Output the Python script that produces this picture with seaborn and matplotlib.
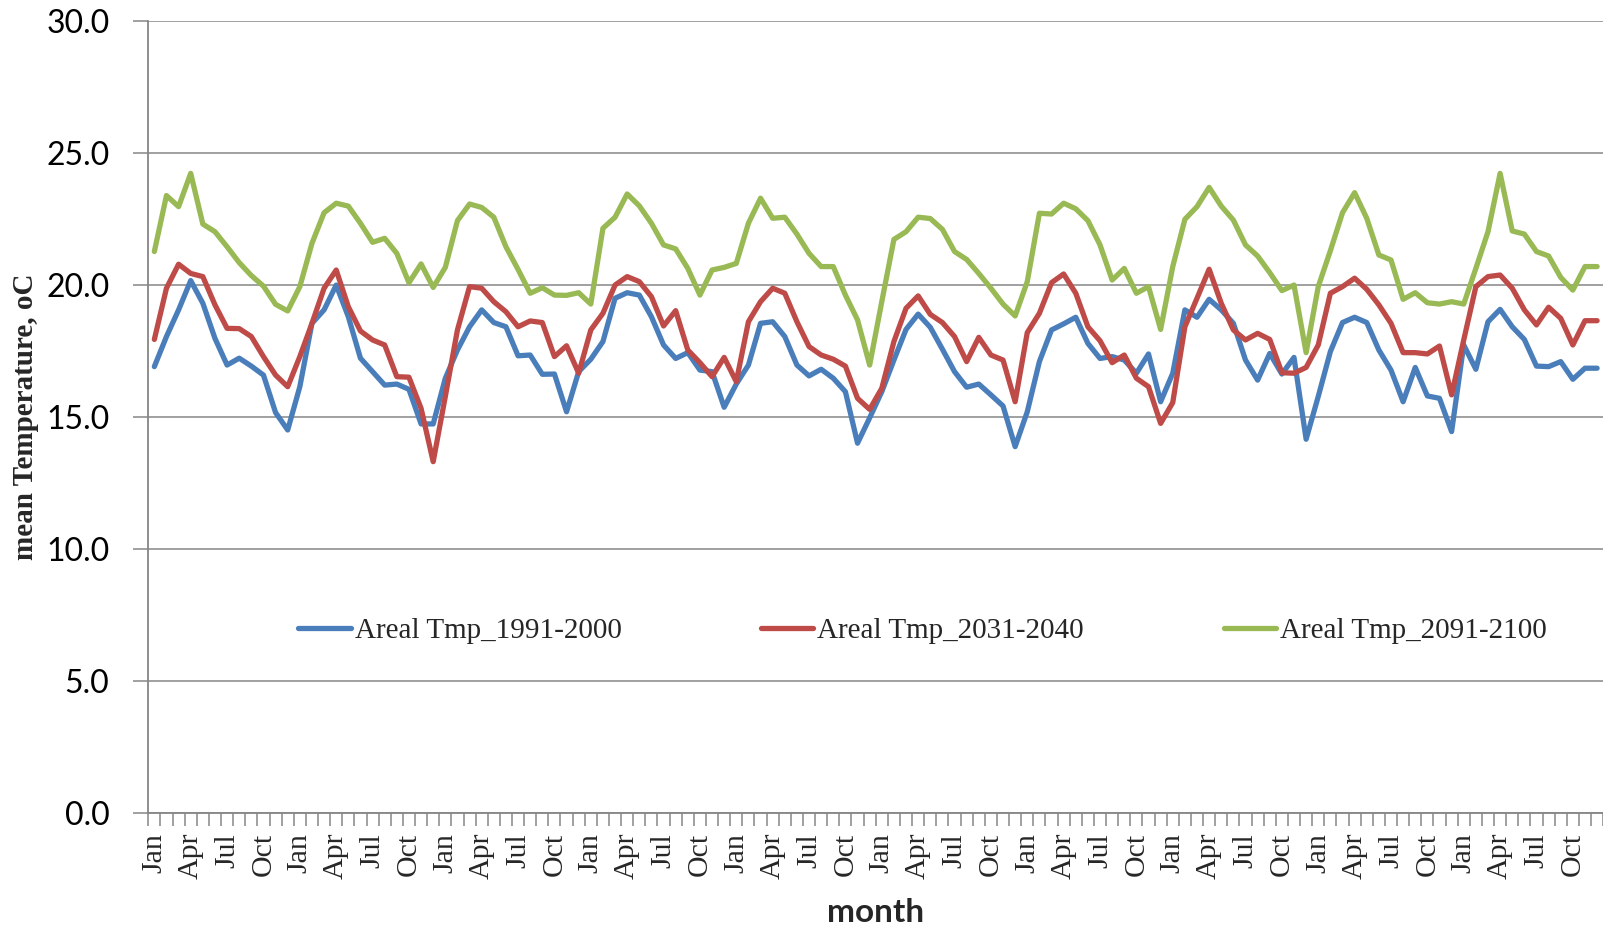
import numpy as np
import pandas as pd
import matplotlib
matplotlib.use("Agg")
import matplotlib.pyplot as plt
import seaborn as sns
from matplotlib.font_manager import FontProperties

# Monthly areal mean temperature, 10 years x 12 months per period
month_names = ["Jan", "Feb", "Mar", "Apr", "May", "Jun",
               "Jul", "Aug", "Sep", "Oct", "Nov", "Dec"]
n_years = 10

tmp_1991_2000 = [
    16.92, 18.06, 19.07, 20.18, 19.32, 17.99, 16.98, 17.24, 16.94, 16.60, 15.18, 14.52,
    16.16, 18.56, 19.07, 20.01, 18.81, 17.24, 16.73, 16.22, 16.26, 16.06, 14.75, 14.75,
    16.48, 17.55, 18.43, 19.07, 18.59, 18.43, 17.33, 17.36, 16.63, 16.64, 15.21, 16.73,
    17.20, 17.87, 19.51, 19.72, 19.63, 18.81, 17.74, 17.23, 17.45, 16.79, 16.73, 15.38,
    16.26, 16.98, 18.56, 18.62, 18.06, 16.98, 16.57, 16.82, 16.48, 15.97, 14.02, 14.98,
    15.97, 17.17, 18.33, 18.91, 18.41, 17.58, 16.73, 16.14, 16.26, 15.85, 15.43, 13.89,
    15.21, 17.11, 18.31, 18.54, 18.79, 17.80, 17.23, 17.30, 17.17, 16.67, 17.40, 15.59,
    16.67, 19.07, 18.79, 19.47, 19.07, 18.56, 17.17, 16.41, 17.42, 16.64, 17.27, 14.17,
    15.79, 17.49, 18.59, 18.79, 18.59, 17.55, 16.79, 15.59, 16.89, 15.81, 15.72, 14.46,
    17.74, 16.82, 18.62, 19.09, 18.43, 17.95, 16.94, 16.92, 17.11, 16.44, 16.86, 16.86,
]

tmp_2031_2040 = [
    17.95, 19.89, 20.80, 20.45, 20.33, 19.26, 18.37, 18.36, 18.06, 17.30, 16.60, 16.16,
    17.30, 18.56, 19.89, 20.58, 19.19, 18.27, 17.93, 17.74, 16.54, 16.52, 15.34, 13.32,
    15.79, 18.31, 19.95, 19.89, 19.38, 19.00, 18.43, 18.65, 18.59, 17.30, 17.71, 16.67,
    18.31, 18.94, 20.01, 20.33, 20.14, 19.57, 18.46, 19.04, 17.55, 17.07, 16.54, 17.27,
    16.35, 18.62, 19.38, 19.89, 19.70, 18.62, 17.68, 17.36, 17.20, 16.94, 15.72, 15.30,
    16.10, 17.87, 19.13, 19.60, 18.90, 18.59, 18.06, 17.11, 18.03, 17.36, 17.17, 15.59,
    18.21, 18.94, 20.10, 20.43, 19.70, 18.43, 17.90, 17.07, 17.36, 16.48, 16.16, 14.77,
    15.56, 18.43, 19.51, 20.61, 19.32, 18.31, 17.93, 18.18, 17.95, 16.69, 16.67, 16.89,
    17.74, 19.70, 19.95, 20.27, 19.85, 19.26, 18.56, 17.45, 17.45, 17.40, 17.70, 15.85,
    17.93, 19.95, 20.33, 20.39, 19.89, 19.07, 18.50, 19.17, 18.75, 17.74, 18.66, 18.66,
]

tmp_2091_2100 = [
    21.28, 23.40, 22.98, 24.24, 22.32, 22.03, 21.46, 20.86, 20.37, 19.97, 19.28, 19.03,
    19.95, 21.59, 22.75, 23.11, 23.00, 22.35, 21.63, 21.78, 21.21, 20.10, 20.81, 19.92,
    20.68, 22.45, 23.08, 22.95, 22.58, 21.46, 20.60, 19.70, 19.91, 19.63, 19.62, 19.72,
    19.29, 22.16, 22.58, 23.46, 23.01, 22.35, 21.53, 21.38, 20.64, 19.63, 20.58, 20.68,
    20.83, 22.35, 23.30, 22.54, 22.58, 21.94, 21.21, 20.71, 20.71, 19.63, 18.69, 16.98,
    19.38, 21.74, 22.03, 22.58, 22.53, 22.12, 21.28, 20.98, 20.45, 19.89, 19.29, 18.84,
    20.14, 22.73, 22.70, 23.11, 22.90, 22.45, 21.53, 20.20, 20.64, 19.70, 19.95, 18.33,
    20.71, 22.50, 22.98, 23.71, 23.00, 22.47, 21.53, 21.11, 20.48, 19.80, 20.01, 17.45,
    19.95, 21.31, 22.75, 23.51, 22.54, 21.15, 20.96, 19.47, 19.72, 19.34, 19.29, 19.38,
    19.29, 20.64, 22.03, 24.24, 22.06, 21.94, 21.28, 21.11, 20.30, 19.82, 20.71, 20.71,
]

series_names = ["Areal Tmp_1991-2000", "Areal Tmp_2031-2040", "Areal Tmp_2091-2100"]
series_colors = ["#4A7EBB", "#BE4B48", "#98B954"]
y_ticks = [0, 5, 10, 15, 20, 25, 30]

# Long-form table for seaborn
n_months = 12 * n_years
frames = []
for name, vals in zip(series_names, [tmp_1991_2000, tmp_2031_2040, tmp_2091_2100]):
    frames.append(pd.DataFrame({"idx": np.arange(n_months), "value": vals, "series": name}))
df = pd.concat(frames, ignore_index=True)

sns.set_theme(style="white")
plt.rcParams["font.family"] = ["Liberation Serif", "DejaVu Serif"]

fig = plt.figure(figsize=(16.03, 9.31), dpi=100)
ax = fig.add_axes([0.0925, 0.1264, 0.9076, 0.8507])

sns.lineplot(data=df, x="idx", y="value", hue="series", hue_order=series_names,
             palette=series_colors, linewidth=3.8, ax=ax, legend=True, sort=False)

grid_c = "#868686"
ax.set_xlim(-0.5, n_months - 0.5)
ax.set_ylim(0, 30)

# y axis
ax.set_yticks(y_ticks)
ax.set_yticklabels([f"{v:.1f}" for v in y_ticks], fontfamily="Lato", fontsize=23, color="black")
ax.yaxis.grid(True, color=grid_c, linewidth=1.1)
ax.xaxis.grid(False)
ax.tick_params(axis="y", which="major", left=True, length=11, width=1.1,
               color=grid_c, pad=17, direction="out")

# x axis: boundary ticks every month, labels every third month
ax.set_xticks(np.arange(-0.5, n_months, 1.0))
ax.set_xticklabels([])
ax.tick_params(axis="x", which="major", bottom=True, length=9, width=1.1,
               color=grid_c, direction="out")
label_pos = np.arange(0, n_months, 3)
ax.set_xticks(label_pos, minor=True)
ax.set_xticklabels([month_names[p % 12] for p in label_pos], minor=True,
                   rotation=90, fontfamily="Liberation Serif", fontsize=21.5)
ax.tick_params(axis="x", which="minor", bottom=True, length=0, pad=14)

for side in ["top", "right"]:
    ax.spines[side].set_visible(False)
for side in ["left", "bottom"]:
    ax.spines[side].set_color(grid_c)
    ax.spines[side].set_linewidth(1.3)

ax.set_xlabel("")
ax.set_ylabel("")

handles, labels = ax.get_legend_handles_labels()
ax.legend(handles, labels, ncol=3, frameon=False, loc="center left",
          bbox_to_anchor=(298 / 1603, 1 - 631 / 931), bbox_transform=fig.transFigure,
          handlelength=1.8, handletextpad=0.14, columnspacing=4.78,
          borderpad=0, borderaxespad=0,
          prop=FontProperties(family="Liberation Serif", size=21))

fig.text(25.5 / 1603, 1 - 417 / 931, "mean Temperature, oC", rotation=90,
         fontfamily="Liberation Serif", fontweight="bold", fontsize=21,
         ha="center", va="center")
fig.text(876 / 1603, 1 - 913 / 931, "month", fontfamily="Lato", fontweight="bold",
         fontsize=24, ha="center", va="center")

fig.savefig("out.png", dpi=100)
